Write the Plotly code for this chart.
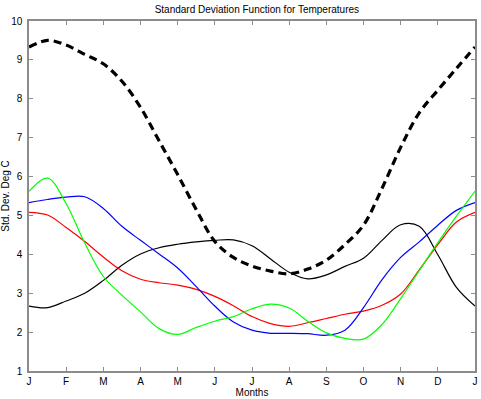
import plotly.graph_objects as go

# month positions at half-month resolution (0 = Jan ... 12 = Jan)
months_x = [i * 0.5 for i in range(25)]
tick_labels = ["J", "F", "M", "A", "M", "J", "J", "A", "S", "O", "N", "D", "J"]

overall_sd = [9.33, 9.50, 9.38, 9.14, 8.90, 8.45, 7.78, 6.92, 6.05, 5.15, 4.33, 3.92, 3.70,
              3.57, 3.50, 3.62, 3.85, 4.25, 4.75, 5.70, 6.75, 7.64, 8.22, 8.78, 9.33]
green_sd = [5.62, 5.96, 5.30, 4.29, 3.43, 2.95, 2.52, 2.09, 1.94, 2.12, 2.28, 2.40, 2.60,
            2.72, 2.62, 2.28, 1.98, 1.84, 1.82, 2.20, 2.86, 3.58, 4.30, 4.98, 5.62]
blue_sd = [5.33, 5.41, 5.47, 5.48, 5.18, 4.72, 4.36, 4.01, 3.65, 3.17, 2.67, 2.26, 2.05,
           1.97, 1.97, 1.96, 1.92, 2.05, 2.63, 3.35, 3.92, 4.32, 4.75, 5.13, 5.33]
red_sd = [5.08, 5.01, 4.69, 4.33, 3.93, 3.58, 3.36, 3.27, 3.21, 3.10, 2.92, 2.68, 2.40,
          2.22, 2.15, 2.24, 2.35, 2.46, 2.54, 2.69, 2.98, 3.60, 4.25, 4.83, 5.08]
black_sd = [2.67, 2.63, 2.80, 3.00, 3.33, 3.72, 4.01, 4.17, 4.26, 4.32, 4.36, 4.37, 4.22,
            3.88, 3.54, 3.37, 3.47, 3.69, 3.90, 4.36, 4.76, 4.72, 3.99, 3.15, 2.67]

font = dict(family="Liberation Sans, Arial, Helvetica, sans-serif", size=10, color="black")

fig = go.Figure()
for ys, col in [(black_sd, "black"), (red_sd, "#ff0000"), (blue_sd, "#0000ff"), (green_sd, "#00ff00")]:
    fig.add_trace(go.Scatter(x=months_x, y=ys, mode="lines",
                             line=dict(color=col, width=1.2, shape="spline", smoothing=1.0),
                             showlegend=False, hoverinfo="skip"))
fig.add_trace(go.Scatter(x=months_x, y=overall_sd, mode="lines",
                         line=dict(color="black", width=3.2, dash="8px,5px", shape="spline", smoothing=1.0),
                         showlegend=False, hoverinfo="skip"))

axis_common = dict(showgrid=False, zeroline=False, showline=True, mirror="ticks",
                   linecolor="#8c8c8c", linewidth=1.5, ticks="inside", ticklen=4,
                   tickcolor="#8c8c8c", tickfont=font, automargin=False)

fig.update_layout(
    width=481, height=399,
    margin=dict(l=29, r=6, t=21, b=28),
    paper_bgcolor="white", plot_bgcolor="white",
    font=font,
    title=dict(text="Standard Deviation Function for Temperatures", x=0.534, xanchor="center",
               y=0.977, yanchor="middle", font=font, automargin=False),
    xaxis=dict(range=[0, 12], tickvals=list(range(13)), ticktext=tick_labels,
               title=dict(text="Months", font=font, standoff=0), **axis_common),
    yaxis=dict(range=[1, 10], tickvals=list(range(1, 11)), ticklabelstandoff=3,
               title=dict(text="Std. Dev. Deg C", font=font, standoff=1), **axis_common),
)

fig.write_html("out.html", config={"displayModeBar": False},
               post_script="document.body.style.margin='0';")
